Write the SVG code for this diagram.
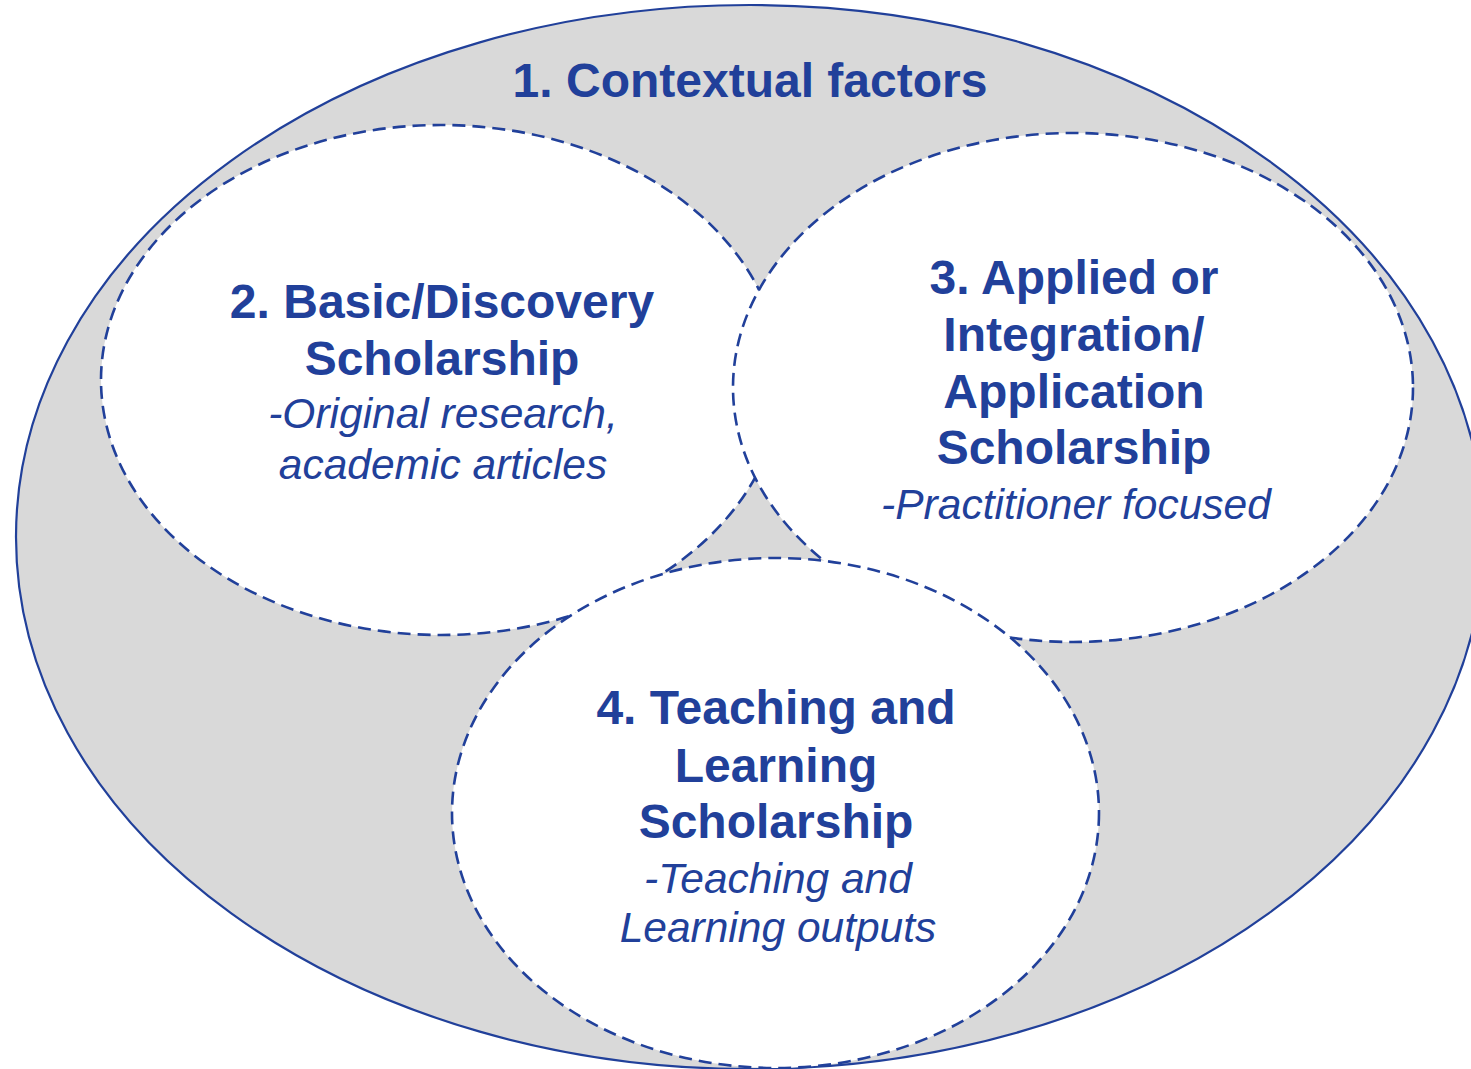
<svg xmlns="http://www.w3.org/2000/svg" width="1471" height="1069" viewBox="0 0 1471 1069">
<style>
.outer{fill:#d9d9d9;stroke:#21409a;stroke-width:2.2}
.circ{fill:#ffffff;stroke:#21409a;stroke-width:2.6;stroke-dasharray:13 7}
.t{font-family:"Liberation Sans",Arial,sans-serif;fill:#21409a;text-anchor:middle}
.b{font-weight:bold;font-size:48px}
.i{font-style:italic;font-size:42.5px}
</style>
<rect width="1471" height="1069" fill="#ffffff"/>
<g id="node1">
<ellipse class="outer" cx="750" cy="537" rx="734" ry="532"/>
<text class="t b" x="750" y="97">1. Contextual factors</text>
</g>
<g id="node2">
<ellipse class="circ" cx="441" cy="380" rx="340" ry="255"/>
<text class="t b" x="442" y="318">2. Basic/Discovery</text>
<text class="t b" x="442" y="375">Scholarship</text>
<text class="t i" x="443" y="428">-Original research,</text>
<text class="t i" x="443" y="479">academic articles</text>
</g>
<g id="node3">
<ellipse class="circ" cx="1073" cy="387.5" rx="340" ry="254.5"/>
<text class="t b" x="1074" y="294">3. Applied or</text>
<text class="t b" x="1074" y="351">Integration/</text>
<text class="t b" x="1074" y="408">Application</text>
<text class="t b" x="1074" y="464">Scholarship</text>
<text class="t i" x="1076" y="519">-Practitioner focused</text>
</g>
<g id="node4">
<ellipse class="circ" cx="775.5" cy="813" rx="323.5" ry="255"/>
<text class="t b" x="776" y="724">4. Teaching and</text>
<text class="t b" x="776" y="782">Learning</text>
<text class="t b" x="776" y="838">Scholarship</text>
<text class="t i" x="778" y="893">-Teaching and</text>
<text class="t i" x="778" y="942">Learning outputs</text>
</g>
<g id="connectors"></g>
</svg>
